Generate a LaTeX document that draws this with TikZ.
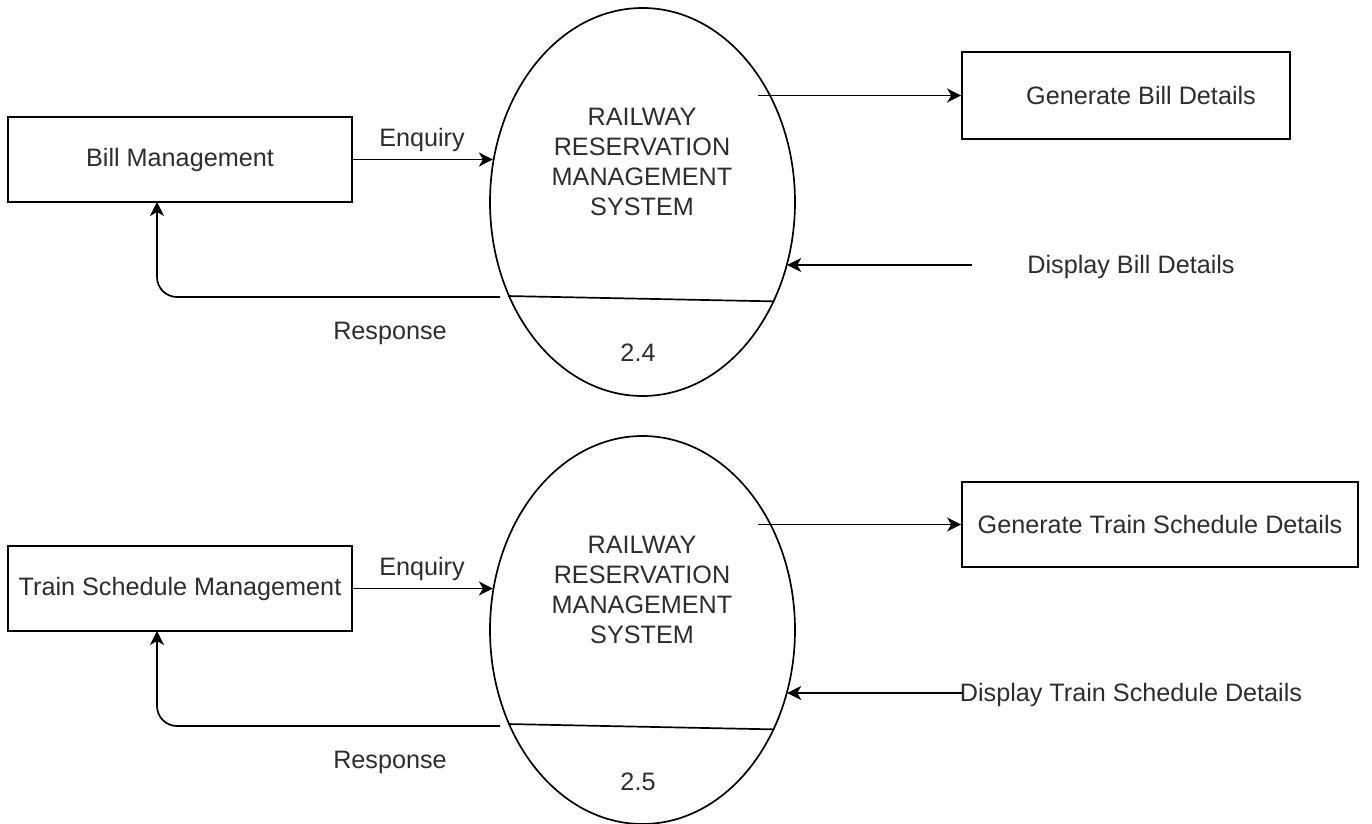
\documentclass[tikz,border=0pt]{standalone}
\usepackage{fontspec}
\setmainfont{Liberation Sans}
\usetikzlibrary{shapes.geometric,arrows.meta}
\definecolor{txt}{RGB}{45,45,45}
\tikzset{
  every node/.style={font=\fontsize{12.6}{15}\selectfont, text=txt},
  proc/.style={draw=black, line width=0.85pt, ellipse, minimum width=152.5pt, minimum height=194pt, inner sep=0pt},
  entity/.style={draw=black, line width=0.85pt, rectangle, inner sep=0pt},
  flow/.style={draw=black, line width=0.85pt, -{Stealth[length=7pt,width=7pt,inset=2pt]}},
  divider/.style={draw=black, line width=0.85pt},
  lbl/.style={inner sep=0pt}
}
\begin{document}
\begin{tikzpicture}[x=0.5pt,y=-0.5pt]
\useasboundingbox (0,0) rectangle (1372,824);

% ---------- top diagram ----------
\node[proc] (e1) at (642.5,202) {};
\node[lbl, align=center] (t1) at (642,162) {RAILWAY\\RESERVATION\\MANAGEMENT\\SYSTEM};
\node[lbl] (n1) at (638,353) {2.4};
\node[entity, minimum width=172pt, minimum height=42.5pt] (bm) at (180,159.5) {Bill Management};
\node[entity, minimum width=164pt, minimum height=43.5pt,
      label={[lbl, xshift=7.5pt]center:Generate Bill Details}] (gb) at (1126,95.5) {};
\node[lbl] (db) at (1131,267) {Display Bill Details};
\node[lbl] (enq1) at (422,140) {Enquiry};
\node[lbl] (res1) at (390,333) {Response};

\coordinate (o1) at (758,95.5);
\coordinate (i1) at (972,265);
\coordinate (r1) at (500,297);
\coordinate (r1end) at (157,202);

\draw[flow] (bm.east) -- (bm.east -| e1.164);
\draw[flow] (o1) -- (gb.west);
\draw[flow] (i1) -- (i1 -| e1.-24);
\draw[flow, rounded corners=10pt] (r1) -| (r1end);
\draw[divider] (e1.215.5) -- (e1.-37.6);

% ---------- bottom diagram ----------
\node[proc] (e2) at (642.5,630) {};
\node[lbl, align=center] (t2) at (642,590) {RAILWAY\\RESERVATION\\MANAGEMENT\\SYSTEM};
\node[lbl] (n2) at (638,782) {2.5};
\node[entity, minimum width=172pt, minimum height=42.5pt] (tm) at (180,588.5) {Train Schedule Management};
\node[entity, minimum width=198pt, minimum height=42.5pt] (gt) at (1160,524.5) {Generate Train Schedule Details};
\node[lbl] (dt) at (1131,695) {Display Train Schedule Details};
\node[lbl] (enq2) at (422,569) {Enquiry};
\node[lbl] (res2) at (390,762) {Response};

\coordinate (o2) at (758,524.5);
\coordinate (i2) at (963,693);
\coordinate (r2) at (500,726);
\coordinate (r2end) at (157,631);

\draw[flow] (tm.east) -- (tm.east -| e2.164);
\draw[flow] (o2) -- (gt.west);
\draw[flow] (i2) -- (i2 -| e2.-24);
\draw[flow, rounded corners=10pt] (r2) -| (r2end);
\draw[divider] (e2.215.5) -- (e2.-37.6);
\end{tikzpicture}
\end{document}
